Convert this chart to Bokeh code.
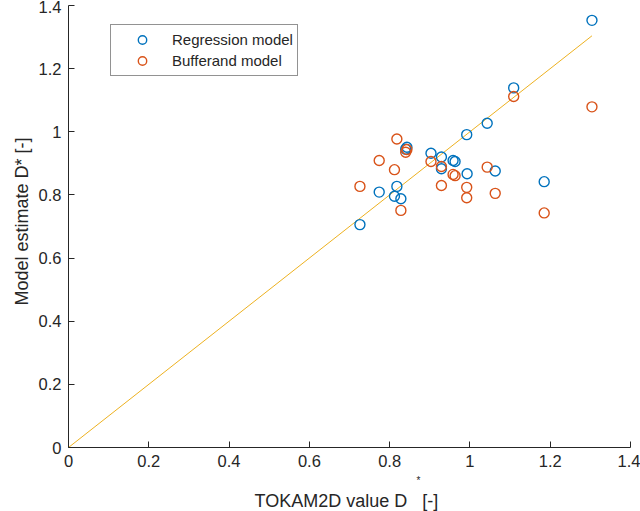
from bokeh.plotting import figure
from bokeh.models import FixedTicker, Legend, LegendItem, Range1d, Title
from bokeh.embed import file_html
from bokeh.resources import INLINE

# ---------------- data ----------------
reg_x = [1.304, 1.109, 1.043, 0.992, 0.903, 0.929, 0.929, 0.958, 0.963, 0.993, 1.063, 1.185,
         0.843, 0.840, 0.774, 0.818, 0.812, 0.828, 0.726]
reg_y = [1.353, 1.139, 1.027, 0.991, 0.932, 0.920, 0.883, 0.909, 0.906, 0.867, 0.876, 0.842,
         0.951, 0.945, 0.809, 0.827, 0.796, 0.788, 0.706]

buf_x = [1.304, 1.109, 0.818, 0.840, 0.843, 0.774, 0.812, 0.726, 0.828, 0.903, 0.929, 0.929,
         0.958, 0.963, 0.992, 0.992, 1.043, 1.063, 1.185]
buf_y = [1.079, 1.112, 0.977, 0.935, 0.944, 0.909, 0.880, 0.827, 0.751, 0.906, 0.890, 0.830,
         0.865, 0.861, 0.824, 0.791, 0.888, 0.805, 0.743]

ident_x = [0.0, max(reg_x)]
ident_y = [0.0, max(reg_x)]

ticks = [0, 0.2, 0.4, 0.6, 0.8, 1.0, 1.2, 1.4]
tick_labels = ["0", "0.2", "0.4", "0.6", "0.8", "1", "1.2", "1.4"]

series_names = ["Regression model", "Bufferand model"]
GAP = "\u00a0\u00a0\u00a0"
xlabel_main = "TOKAM2D value D" + GAP + "[-]"
xlabel_sup = "*"
ylabel_main = "Model estimate D* [-]"

# ---------------- styling ----------------
BLUE = "#0072BD"
ORANGE = "#D95319"
YELLOW = "#EDB120"
AX = "#262626"
FONT = "Liberation Sans"

p = figure(width=640, height=511, output_backend="svg", toolbar_location=None,
           x_range=Range1d(0, 1.4), y_range=Range1d(0, 1.4),
           min_border_left=68, min_border_right=10, min_border_top=5, min_border_bottom=64)
p.outline_line_color = None
p.grid.visible = False
p.background_fill_color = "white"
p.border_fill_color = "white"

for ax in (p.xaxis[0], p.yaxis[0]):
    ax.ticker = FixedTicker(ticks=ticks)
    ax.major_label_overrides = {t: l for t, l in zip(ticks, tick_labels)}
    ax.major_tick_in = 6
    ax.major_tick_out = 0
    ax.minor_tick_line_color = None
    ax.axis_line_color = AX
    ax.major_tick_line_color = AX
    ax.major_label_text_color = AX
    ax.major_label_text_font = FONT
    ax.major_label_text_font_size = "16.5px"
    ax.major_label_standoff = 7

p.line(ident_x, ident_y, line_color=YELLOW, line_width=1)

r1 = p.scatter(reg_x, reg_y, marker="circle", size=10, fill_color=None,
               line_color=BLUE, line_width=1.4)
r2 = p.scatter(buf_x, buf_y, marker="circle", size=10, fill_color=None,
               line_color=ORANGE, line_width=1.4)

legend = Legend(items=[LegendItem(label=series_names[0], renderers=[r1]),
                       LegendItem(label=series_names[1], renderers=[r2])],
                location=(42, 371), padding=4, spacing=0, margin=0,
                glyph_width=54, glyph_height=21, label_height=21, label_standoff=3,
                label_text_font=FONT, label_text_font_size="15px", label_text_color=AX,
                border_line_color=AX, border_line_width=1,
                background_fill_color="white", background_fill_alpha=1)
p.add_layout(legend, "center")

def title(text, size, offset, standoff):
    return Title(text=text, align="left", offset=offset, standoff=standoff,
                 text_font=FONT, text_font_size=size, text_font_style="normal",
                 text_color=AX)

# x label: superscript row right under the tick labels, then the main text
p.add_layout(title(xlabel_sup, "10px", 348, 6), "below")
p.add_layout(title(xlabel_main, "18px", 186, 0), "below")
# y label
p.add_layout(title(ylabel_main, "18px", 142, 8), "left")

open("out.html", "w").write(file_html(p, INLINE))
